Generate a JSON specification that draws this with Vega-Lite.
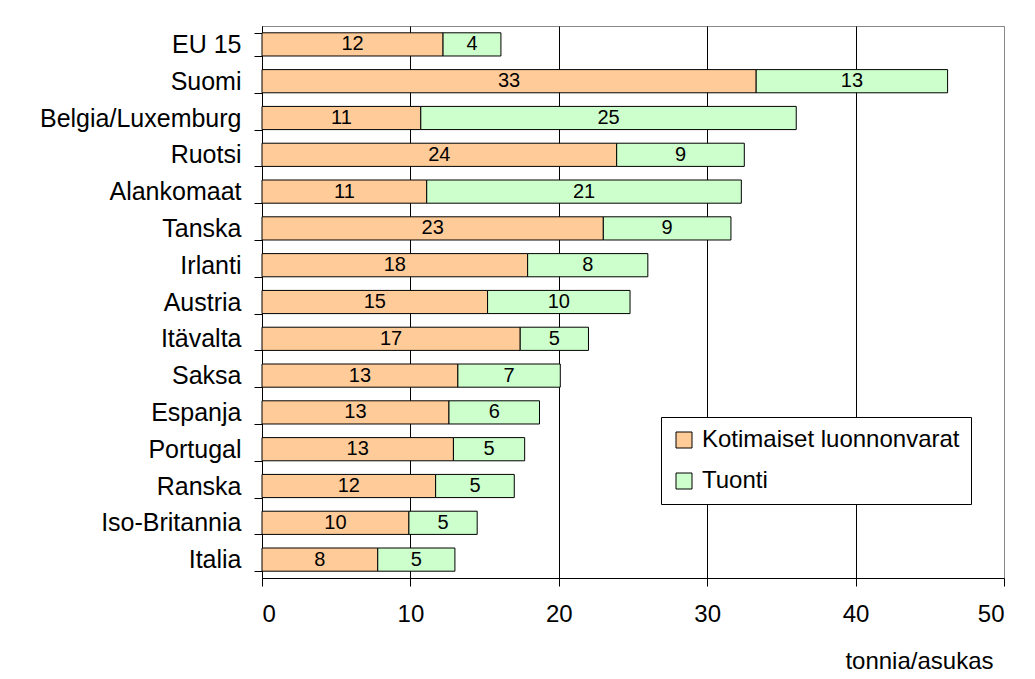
{
  "$schema": "https://vega.github.io/schema/vega-lite/v6.json",
  "width": 742,
  "height": 552,
  "padding": {"left": 5, "top": 14, "right": 5, "bottom": 5},
  "background": "white",
  "data": {
    "values": [
      {"maa": "EU 15\u00a0", "sarja": "Kotimaiset luonnonvarat", "arvo": 12.2},
      {"maa": "EU 15\u00a0", "sarja": "Tuonti", "arvo": 3.9},
      {"maa": "Suomi", "sarja": "Kotimaiset luonnonvarat", "arvo": 33.3},
      {"maa": "Suomi", "sarja": "Tuonti", "arvo": 12.9},
      {"maa": "Belgia/Luxemburg", "sarja": "Kotimaiset luonnonvarat", "arvo": 10.7},
      {"maa": "Belgia/Luxemburg", "sarja": "Tuonti", "arvo": 25.3},
      {"maa": "Ruotsi", "sarja": "Kotimaiset luonnonvarat", "arvo": 23.9},
      {"maa": "Ruotsi", "sarja": "Tuonti", "arvo": 8.6},
      {"maa": "Alankomaat", "sarja": "Kotimaiset luonnonvarat", "arvo": 11.1},
      {"maa": "Alankomaat", "sarja": "Tuonti", "arvo": 21.2},
      {"maa": "Tanska", "sarja": "Kotimaiset luonnonvarat", "arvo": 23.0},
      {"maa": "Tanska", "sarja": "Tuonti", "arvo": 8.6},
      {"maa": "Irlanti", "sarja": "Kotimaiset luonnonvarat", "arvo": 17.9},
      {"maa": "Irlanti", "sarja": "Tuonti", "arvo": 8.1},
      {"maa": "Austria\u00a0", "sarja": "Kotimaiset luonnonvarat", "arvo": 15.2},
      {"maa": "Austria\u00a0", "sarja": "Tuonti", "arvo": 9.6},
      {"maa": "Itävalta", "sarja": "Kotimaiset luonnonvarat", "arvo": 17.4},
      {"maa": "Itävalta", "sarja": "Tuonti", "arvo": 4.6},
      {"maa": "Saksa", "sarja": "Kotimaiset luonnonvarat", "arvo": 13.2},
      {"maa": "Saksa", "sarja": "Tuonti", "arvo": 6.9},
      {"maa": "Espanja", "sarja": "Kotimaiset luonnonvarat", "arvo": 12.6},
      {"maa": "Espanja", "sarja": "Tuonti", "arvo": 6.1},
      {"maa": "Portugal\u00a0", "sarja": "Kotimaiset luonnonvarat", "arvo": 12.9},
      {"maa": "Portugal\u00a0", "sarja": "Tuonti", "arvo": 4.8},
      {"maa": "Ranska", "sarja": "Kotimaiset luonnonvarat", "arvo": 11.7},
      {"maa": "Ranska", "sarja": "Tuonti", "arvo": 5.3},
      {"maa": "Iso-Britannia", "sarja": "Kotimaiset luonnonvarat", "arvo": 9.9},
      {"maa": "Iso-Britannia", "sarja": "Tuonti", "arvo": 4.6},
      {"maa": "Italia", "sarja": "Kotimaiset luonnonvarat", "arvo": 7.8},
      {"maa": "Italia", "sarja": "Tuonti", "arvo": 5.2}
    ]
  },
  "transform": [
    {"stack": "arvo", "groupby": ["maa"], "sort": [{"field": "sarja", "order": "ascending"}], "as": ["x0", "x1"]},
    {"calculate": "(datum.x0 + datum.x1) / 2", "as": "xmid"}
  ],
  "encoding": {
    "y": {
      "field": "maa",
      "type": "nominal",
      "sort": ["EU 15\u00a0", "Suomi", "Belgia/Luxemburg", "Ruotsi", "Alankomaat", "Tanska", "Irlanti", "Austria\u00a0", "Itävalta", "Saksa", "Espanja", "Portugal\u00a0", "Ranska", "Iso-Britannia", "Italia"],
      "scale": {"paddingInner": 0.37, "paddingOuter": 0.185},
      "axis": {
        "title": null,
        "grid": false,
        "domainColor": "black",
        "tickColor": "black",
        "tickSize": 8,
        "tickBand": "extent",
        "labelFont": "Liberation Sans",
        "labelFontSize": 25,
        "labelColor": "black",
        "labelPadding": 13,
        "labelLimit": 400,
        "minExtent": 257,
        "maxExtent": 257
      }
    }
  },
  "layer": [
    {
      "mark": {"type": "bar", "stroke": "black", "strokeWidth": 1},
      "encoding": {
        "x": {
          "field": "x0",
          "type": "quantitative",
          "scale": {"domain": [0, 50], "nice": false},
          "axis": {
            "title": "tonnia/asukas",
            "values": [0, 10, 20, 30, 40, 50],
            "grid": true,
            "gridColor": {"condition": {"test": "datum.value == 50", "value": "#888888"}, "value": "black"},
            "gridOpacity": 1,
            "domainColor": "black",
            "tickColor": "black",
            "tickSize": 8,
            "labelFont": "Liberation Sans",
            "labelFontSize": 24,
            "labelColor": "black",
            "labelPadding": 16,
            "titleFont": "Liberation Sans",
            "titleFontSize": 24,
            "titleFontWeight": "normal",
            "titleColor": "black",
            "titleX": 731,
            "titleY": 90,
            "titleAlign": "right",
            "titleBaseline": "alphabetic"
          }
        },
        "x2": {"field": "x1"},
        "color": {
          "field": "sarja",
          "type": "nominal",
          "scale": {"domain": ["Kotimaiset luonnonvarat", "Tuonti"], "range": ["#FFCC99", "#CCFFCC"]},
          "legend": {
            "title": null,
            "orient": "none",
            "legendX": 399,
            "legendY": 391,
            "symbolType": "square",
            "symbolSize": 256,
            "symbolStrokeColor": "black",
            "symbolStrokeWidth": 1,
            "symbolOpacity": 1,
            "labelFont": "Liberation Sans",
            "labelFontSize": 24,
            "labelColor": "black",
            "labelOffset": 6,
            "labelLimit": 400,
            "padding": 11,
            "rowPadding": 17,
            "strokeColor": "black",
            "fillColor": "white"
          }
        }
      }
    },
    {
      "mark": {"type": "text", "font": "Liberation Sans", "fontSize": 20, "color": "black", "baseline": "middle", "align": "center"},
      "encoding": {
        "x": {"field": "xmid", "type": "quantitative"},
        "text": {"field": "arvo", "type": "quantitative", "format": ".0f"}
      }
    }
  ],
  "config": {
    "view": {"stroke": "#888888", "strokeWidth": 1}
  }
}
